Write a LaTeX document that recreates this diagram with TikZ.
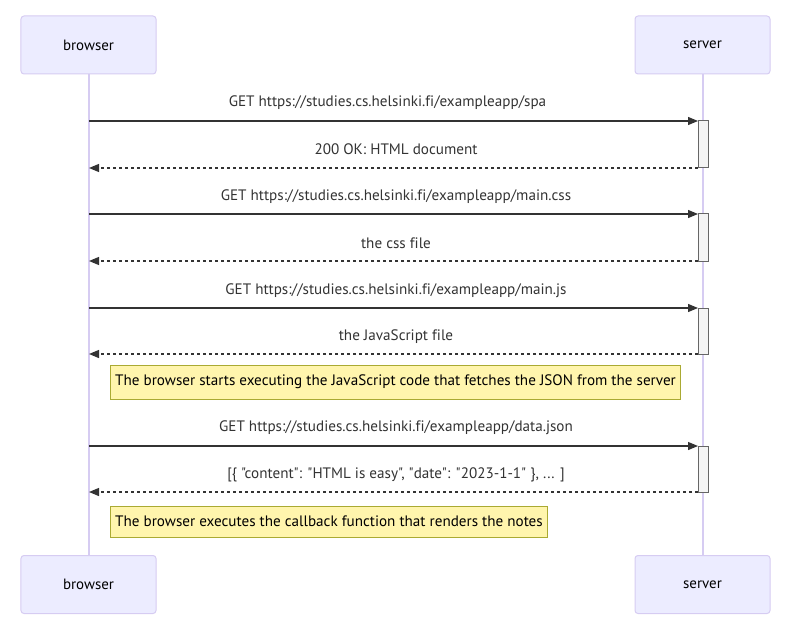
\documentclass[tikz,border=0pt]{standalone}
\usepackage{fontspec}
\newfontfamily\dfont{PT Sans}[Ligatures={NoCommon}]
\usetikzlibrary{arrows.meta}
\definecolor{actfill}{HTML}{ECECFF}
\definecolor{actline}{HTML}{D6CCF2}
\definecolor{msg}{HTML}{333333}
\definecolor{notefill}{HTML}{FFF5AD}
\definecolor{noteline}{HTML}{AAAA33}
\definecolor{actvfill}{HTML}{F4F4F4}
\definecolor{actvline}{HTML}{666666}
\tikzset{
  actor/.style={draw=actline, fill=actfill, rounded corners=3bp, minimum width=135bp, minimum height=58bp, font=\dfont\fontsize{15}{18}\selectfont, text=black, line width=1bp},
  lifeline/.style={draw=actline, line width=1.3bp},
  reqmsg/.style={draw=msg, line width=1.2bp, -{Triangle[length=10bp,width=8bp]}},
  retmsg/.style={draw=msg, line width=1.2bp, dash pattern=on 3bp off 3bp, -{Triangle[length=10bp,width=8bp]}},
  msglabel/.style={font=\dfont\fontsize{15.2}{18}\selectfont, text=msg, inner sep=0pt},
  notebox/.style={draw=noteline, fill=notefill, font=\dfont\fontsize{15.2}{18}\selectfont, text=black, inner sep=0pt, line width=1bp},
  actv/.style={draw=actvline, fill=actvfill, line width=1bp}
}
\begin{document}
\begin{tikzpicture}[x=1bp,y=-1bp]
\useasboundingbox (0,0) rectangle (799,624);
% lifelines
\coordinate (bt) at (89,74);
\coordinate (bb) at (89,556);
\coordinate (st) at (703,74);
\coordinate (sb) at (703,556);
\draw[lifeline] (bt) -- (bb);
\draw[lifeline] (st) -- (sb);
% actors
\node[actor] (b1) at (88.5,45) {\raisebox{-1bp}{browser}};
\node[actor] (s1) at (702.5,45) {\raisebox{-1bp}{server}};
\node[actor] (b2) at (88.5,584.5) {\raisebox{-1bp}{browser}};
\node[actor] (s2) at (702.5,584.5) {\raisebox{-1bp}{server}};
% activation boxes
\draw[actv] (698,121) rectangle (708,168);
\draw[actv] (698,214) rectangle (708,261);
\draw[actv] (698,308) rectangle (708,354);
\draw[actv] (698,446) rectangle (708,492);
% message endpoints
\foreach \n/\y in {1/121,2/168,3/214,4/261,5/308,6/354,7/446,8/492}{
  \coordinate (L\n) at (89,\y);
  \coordinate (R\n) at (698,\y);
}
\draw[reqmsg] (L1) -- (R1);
\draw[retmsg] (R2) -- (L2);
\draw[reqmsg] (L3) -- (R3);
\draw[retmsg] (R4) -- (L4);
\draw[reqmsg] (L5) -- (R5);
\draw[retmsg] (R6) -- (L6);
\draw[reqmsg] (L7) -- (R7);
\draw[retmsg] (R8) -- (L8);
% labels
\node[msglabel] (m1) at (387.5,102.5) {GET https://studies.cs.helsinki.fi/exampleapp/spa};
\node[msglabel] (m2) at (396,149.5) {200 OK: HTML document};
\node[msglabel] (m3) at (396,196.5) {GET https://studies.cs.helsinki.fi/exampleapp/main.css};
\node[msglabel] (m4) at (396,243.5) {the css file};
\node[msglabel] (m5) at (396,290.5) {GET https://studies.cs.helsinki.fi/exampleapp/main.js};
\node[msglabel] (m6) at (396,336.5) {the JavaScript file};
\node[msglabel] (m7) at (396,427.5) {GET https://studies.cs.helsinki.fi/exampleapp/data.json};
\node[msglabel] (m8) at (396,474.5) {[\{ "content": "HTML is easy", "date": "2023-1-1" \}, ... ]};
% notes
\node[notebox, minimum width=569bp, minimum height=34bp] (n1) at (395.5,382) {The browser starts executing the JavaScript code that fetches the JSON from the server};
\node[notebox, minimum width=436bp, minimum height=31bp] (n2) at (329,521.5) {The browser executes the callback function that renders the notes};
\end{tikzpicture}
\end{document}
